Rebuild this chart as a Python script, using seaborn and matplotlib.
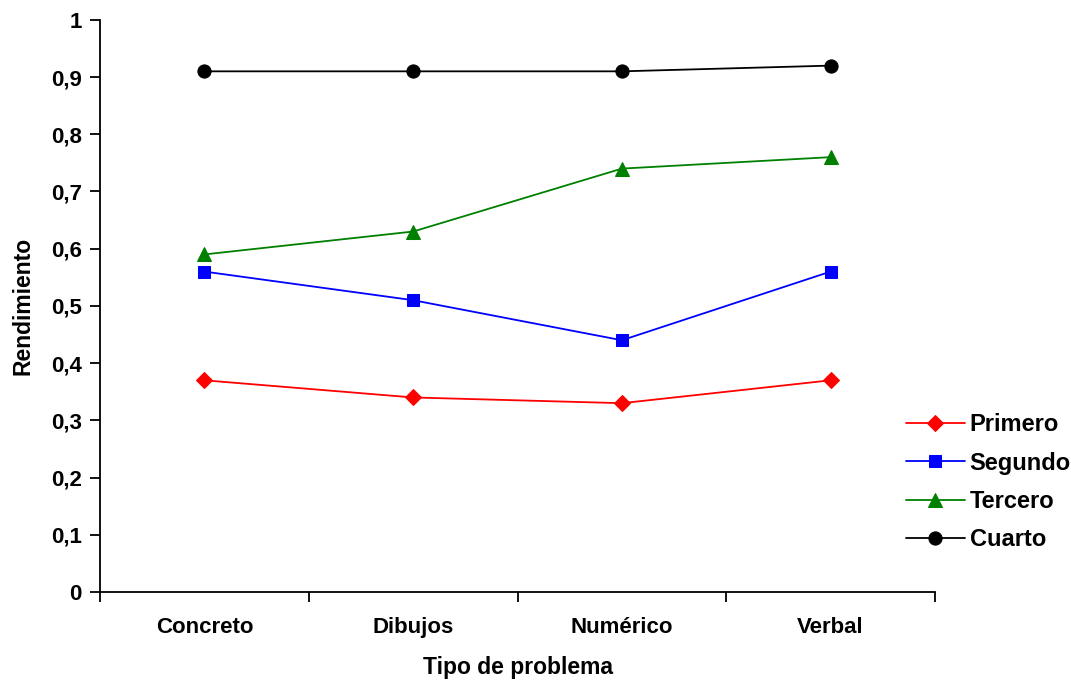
import matplotlib
matplotlib.use("Agg")
import matplotlib.pyplot as plt
import seaborn as sns
import pandas as pd
from matplotlib.ticker import FixedLocator

categories = ["Concreto", "Dibujos", "Numérico", "Verbal"]
series_names = ["Primero", "Segundo", "Tercero", "Cuarto"]
primero = [0.37, 0.34, 0.33, 0.37]
segundo = [0.56, 0.51, 0.44, 0.56]
tercero = [0.59, 0.63, 0.74, 0.76]
cuarto = [0.91, 0.91, 0.91, 0.92]
yticks = [0, 0.1, 0.2, 0.3, 0.4, 0.5, 0.6, 0.7, 0.8, 0.9, 1.0]
ytick_labels = ["0", "0,1", "0,2", "0,3", "0,4", "0,5", "0,6", "0,7", "0,8", "0,9", "1"]

rows = []
for name, vals in zip(series_names, [primero, segundo, tercero, cuarto]):
    for c, v in zip(categories, vals):
        rows.append({"Tipo": c, "Rend": v, "Serie": name})
df = pd.DataFrame(rows)

sns.set_theme(style="white")
plt.rcParams['font.family'] = ['Liberation Sans', 'DejaVu Sans']
plt.rcParams['text.color'] = 'black'
plt.rcParams['axes.labelcolor'] = 'black'
plt.rcParams['xtick.color'] = 'black'
plt.rcParams['ytick.color'] = 'black'

fig = plt.figure(figsize=(10.71, 6.84), dpi=100)
ax = fig.add_axes([0.0934, 0.1345, 0.7796, 0.8365])

palette = {"Primero": "#ff0000", "Segundo": "#0000ff", "Tercero": "#008000", "Cuarto": "#000000"}
markers = {"Primero": "D", "Segundo": "s", "Tercero": "^", "Cuarto": "o"}
sizes_m = {"Primero": 8.5, "Segundo": 8.5, "Tercero": 10.5, "Cuarto": 9.5}

for name in series_names:
    sub = df[df["Serie"] == name]
    sns.lineplot(data=sub, x="Tipo", y="Rend", ax=ax, color=palette[name],
                 marker=markers[name], markersize=sizes_m[name],
                 markeredgecolor=palette[name], linewidth=1.3, label=name,
                 sort=False)

ax.set_xlim(-0.5, 3.5)
ax.set_ylim(0, 1)
ax.set_yticks(yticks)
ax.set_yticklabels(ytick_labels, fontsize=16, fontweight="bold")
ax.set_xticks(range(len(categories)))
ax.set_xticklabels(categories, fontsize=16, fontweight="bold")
ax.xaxis.set_minor_locator(FixedLocator([-0.5, 0.5, 1.5, 2.5, 3.5]))
ax.tick_params(axis="x", which="major", length=0, pad=18)
ax.tick_params(axis="x", which="minor", length=7, width=1.3, color="black", direction="out", bottom=True)
ax.tick_params(axis="y", which="major", length=7, width=1.3, color="black", direction="out", left=True, pad=6)

for s in ["top", "right"]:
    ax.spines[s].set_visible(False)
for s in ["left", "bottom"]:
    ax.spines[s].set_color("black")
    ax.spines[s].set_linewidth(1.3)

ax.set_xlabel("Tipo de problema", fontsize=16.5, fontweight="bold", labelpad=13)
ax.set_ylabel("Rendimiento", fontsize=16.5, fontweight="bold", labelpad=12)

leg = ax.legend(loc="center left", bbox_to_anchor=(0.826, 0.295), bbox_transform=fig.transFigure,
                frameon=False, prop={"weight": "bold", "size": 17}, handlelength=2.5,
                handletextpad=0.2, labelspacing=0.65)

fig.savefig("out.png", dpi=100)
